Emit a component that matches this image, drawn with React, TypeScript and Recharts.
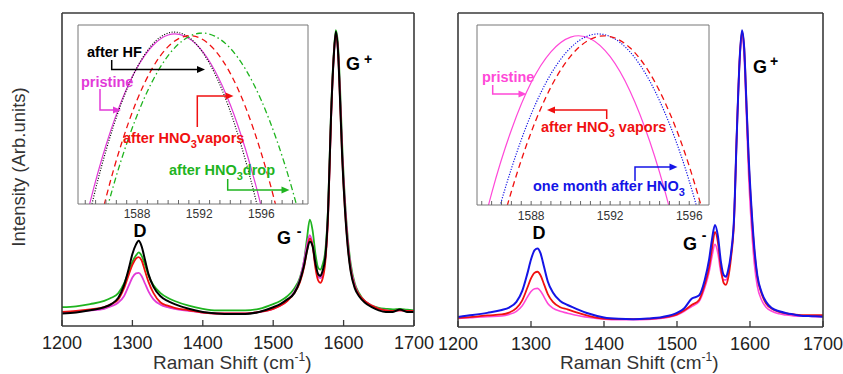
import React from 'react';
import { LineChart, Line, XAxis, YAxis } from 'recharts';

const FONT = "'Liberation Sans', Arial, sans-serif";

// Raman shift grid (cm-1) for the main spectra
const MAIN_X = [1200, 1220, 1240, 1260, 1270, 1280, 1288, 1295, 1300, 1305, 1309, 1313, 1318, 1323, 1330, 1340, 1350, 1360, 1380, 1400, 1420, 1440, 1460, 1480, 1500, 1510, 1520, 1530, 1538, 1544, 1548, 1552, 1556, 1560, 1564, 1567, 1570, 1574, 1578, 1582, 1586, 1589, 1592, 1595, 1598, 1602, 1606, 1610, 1616, 1622, 1630, 1640, 1650, 1660, 1670, 1680, 1690, 1700];
const MAIN_TICKS = [1200, 1300, 1400, 1500, 1600, 1700];

// Left panel spectra
const LEFT_HF = [4.0, 4.3, 5.0, 6.0, 7.0, 9.0, 13.0, 18.5, 23.0, 26.0, 27.2, 25.5, 21.0, 16.5, 12.5, 9.5, 8.0, 7.0, 5.5, 4.5, 4.0, 3.8, 3.8, 4.5, 6.0, 7.0, 8.5, 10.5, 14.5, 19.5, 24.0, 27.0, 25.5, 20.0, 16.5, 16.0, 17.5, 22.0, 37.0, 66.0, 86.0, 94.0, 88.0, 72.0, 54.0, 37.0, 25.0, 17.5, 12.0, 9.5, 7.5, 6.0, 5.0, 4.5, 4.5, 5.3, 4.5, 4.5];
const LEFT_DROP = [6.0, 6.3, 7.0, 8.0, 9.0, 10.5, 13.5, 17.5, 20.5, 22.5, 23.5, 22.5, 19.5, 16.0, 13.0, 10.5, 9.0, 8.0, 6.5, 5.5, 5.0, 5.0, 5.0, 5.5, 7.0, 8.0, 9.5, 12.0, 15.5, 21.0, 28.0, 34.0, 30.5, 23.0, 18.5, 18.0, 19.5, 24.0, 38.0, 67.0, 87.0, 94.5, 90.0, 76.0, 58.0, 40.0, 28.0, 20.0, 13.5, 10.5, 8.0, 6.5, 5.8, 5.5, 5.3, 5.5, 5.2, 5.0];
const LEFT_VAPORS = [4.5, 4.8, 5.3, 6.0, 7.0, 8.5, 12.0, 16.5, 19.5, 21.5, 22.0, 21.0, 17.5, 14.0, 10.5, 7.5, 6.5, 5.8, 5.0, 4.3, 4.0, 4.0, 4.0, 4.5, 5.5, 6.5, 8.0, 10.5, 14.0, 19.0, 24.0, 28.0, 25.5, 18.5, 14.5, 13.8, 15.0, 20.5, 35.0, 65.0, 86.0, 93.5, 88.0, 72.0, 54.0, 37.0, 25.5, 18.0, 12.5, 10.0, 8.0, 6.5, 5.5, 5.0, 4.8, 5.0, 4.8, 4.8];
const LEFT_PRISTINE = [4.3, 4.6, 5.0, 5.5, 6.3, 7.5, 9.5, 13.0, 15.5, 16.8, 17.0, 16.0, 13.5, 11.0, 8.5, 6.8, 6.0, 5.5, 4.8, 4.3, 4.0, 4.0, 4.0, 4.5, 5.5, 6.5, 8.0, 11.0, 15.0, 21.0, 26.0, 29.0, 26.0, 19.5, 15.8, 15.3, 16.5, 21.5, 36.0, 65.0, 86.0, 93.5, 88.5, 74.0, 56.0, 39.0, 27.0, 19.0, 13.0, 10.0, 8.0, 6.5, 5.5, 5.0, 4.8, 5.0, 4.8, 4.8];

// Right panel spectra
const RIGHT_MONTH = [3.2, 3.8, 4.5, 5.4, 6.2, 8.0, 11.5, 17.0, 21.5, 24.5, 25.0, 23.5, 19.0, 14.5, 11.0, 8.3, 7.0, 6.0, 4.2, 3.0, 2.6, 2.5, 2.7, 3.2, 4.5, 6.0, 9.0, 10.0, 15.0, 21.5, 28.0, 32.5, 29.0, 21.0, 16.5, 16.0, 18.0, 23.5, 34.0, 62.0, 86.0, 94.5, 89.0, 72.0, 55.0, 38.0, 25.0, 16.5, 11.0, 8.0, 6.0, 5.0, 4.4, 4.0, 3.6, 3.5, 3.4, 3.3];
const RIGHT_VAPORS = [2.9, 3.2, 3.7, 4.0, 4.6, 6.0, 8.5, 12.5, 15.5, 17.3, 17.6, 16.5, 13.5, 10.5, 8.0, 6.3, 5.6, 4.8, 3.5, 2.7, 2.5, 2.5, 2.6, 3.0, 4.0, 5.3, 7.0, 8.5, 13.5, 19.0, 25.0, 30.3, 27.0, 19.0, 14.0, 13.4, 15.5, 22.0, 33.0, 62.0, 86.0, 94.0, 89.0, 72.0, 54.0, 37.0, 24.0, 16.0, 10.5, 7.5, 5.8, 4.8, 4.3, 4.0, 3.8, 3.8, 3.8, 3.8];
const RIGHT_PRISTINE = [2.7, 3.0, 3.3, 3.5, 4.0, 5.0, 6.8, 9.5, 11.3, 12.2, 12.3, 11.5, 9.5, 7.5, 6.0, 5.0, 4.4, 3.8, 3.0, 2.5, 2.3, 2.3, 2.4, 2.8, 3.8, 5.0, 6.5, 8.0, 12.5, 17.5, 22.5, 26.3, 23.5, 17.5, 15.0, 15.0, 17.0, 23.0, 34.0, 63.0, 86.0, 93.0, 86.0, 68.0, 49.0, 32.0, 20.0, 13.0, 8.5, 6.3, 5.0, 4.2, 3.8, 3.5, 3.4, 3.4, 3.3, 3.3];

// Inset (zoom on G+ peak)
const INSET_MAJOR = [1588, 1592, 1596];
const LEFT_INSET_TICKS = [1584.667, 1585.333, 1586, 1586.667, 1587.333, 1588, 1588.667, 1589.333, 1590, 1590.667, 1591.333, 1592, 1592.667, 1593.333, 1594, 1594.667, 1595.333, 1596, 1596.667, 1597.333, 1598, 1598.667];
const RIGHT_INSET_TICKS = [1585.5, 1586, 1586.5, 1587, 1587.5, 1588, 1588.5, 1589, 1589.5, 1590, 1590.5, 1591, 1591.5, 1592, 1592.5, 1593, 1593.5, 1594, 1594.5, 1595, 1595.5, 1596, 1596.5];

const LI_X_A = [1584, 1585, 1586, 1587, 1588, 1589, 1590, 1591, 1592, 1593, 1594, 1595, 1596, 1597];
const LI_PRISTINE = [-0.356, 0.017, 0.328, 0.576, 0.761, 0.884, 0.944, 0.940, 0.875, 0.746, 0.554, 0.300, -0.017, -0.397];
const LI_HF = [-0.44, -0.036, 0.298, 0.565, 0.763, 0.893, 0.955, 0.948, 0.873, 0.729, 0.517, 0.237, -0.112, -0.55];
const LI_X_B = [1585, 1586, 1587, 1588, 1589, 1590, 1591, 1592, 1593, 1594, 1595, 1596, 1597, 1598];
const LI_VAPORS = [-0.333, 0.034, 0.338, 0.581, 0.761, 0.879, 0.935, 0.929, 0.860, 0.730, 0.537, 0.282, -0.034, -0.414];
const LI_X_C = [1585, 1586, 1587, 1588, 1589, 1590, 1591, 1592, 1593, 1594, 1595, 1596, 1597, 1598, 1599];
const LI_DROP = [-0.397, -0.048, 0.250, 0.495, 0.688, 0.829, 0.917, 0.954, 0.938, 0.870, 0.750, 0.578, 0.354, 0.077, -0.251];

const RI_X_A = [1585, 1586, 1587, 1588, 1589, 1590, 1591, 1592, 1593, 1594, 1595, 1596];
const RI_PRISTINE = [-0.378, 0.065, 0.417, 0.680, 0.851, 0.933, 0.924, 0.824, 0.634, 0.354, -0.017, -0.478];
const RI_X_B = [1585, 1586, 1587, 1588, 1589, 1590, 1591, 1592, 1593, 1594, 1595, 1596, 1597];
const RI_MONTH = [-0.632, -0.176, 0.202, 0.504, 0.728, 0.874, 0.944, 0.936, 0.851, 0.689, 0.450, 0.133, -0.261];
const RI_VAPORS = [-0.817, -0.332, 0.075, 0.404, 0.655, 0.827, 0.921, 0.936, 0.874, 0.733, 0.514, 0.216, -0.160];

const C_BLACK = '#000000';
const C_GREEN = '#1fb41f';
const C_RED = '#f01010';
const C_MAG = '#e23ad8';
const C_PINK = '#ff48d8';
const C_BLUE = '#1414e6';
const FRAME = '#3a3a3a';

const leftData = MAIN_X.map((x, i) => ({ x, hf: LEFT_HF[i], drop: LEFT_DROP[i], vap: LEFT_VAPORS[i], pri: LEFT_PRISTINE[i] }));
const rightData = MAIN_X.map((x, i) => ({ x, month: RIGHT_MONTH[i], vap: RIGHT_VAPORS[i], pri: RIGHT_PRISTINE[i] }));
const pts = (xs: number[], ys: number[]) => xs.map((x, i) => ({ x, y: ys[i] }));

const InsetTick = (props: any) => {
  const { x, y, payload } = props;
  if (!INSET_MAJOR.includes(payload.value)) return <g />;
  return (
    <text x={x} y={y} dy="0.71em" textAnchor="middle" fontSize={12} fill="#333" fontFamily={FONT}>
      {payload.value}
    </text>
  );
};

const mainAxes = (tickMargin: number) => [
  <XAxis key="xb" dataKey="x" type="number" domain={[1200, 1700]} ticks={MAIN_TICKS} allowDataOverflow
    height={30} tickSize={-6} tickMargin={tickMargin} axisLine={{ stroke: FRAME, strokeWidth: 1.6 }}
    tickLine={{ stroke: FRAME, strokeWidth: 1.3 }} tick={{ fontSize: 18, fill: '#222', fontFamily: FONT }} />,
  <XAxis key="xt" xAxisId="t" orientation="top" type="number" domain={[1200, 1700]} ticks={MAIN_TICKS}
    height={1} tickSize={-6} tick={false} axisLine={{ stroke: FRAME, strokeWidth: 1.6 }}
    tickLine={{ stroke: FRAME, strokeWidth: 1.3 }} />,
  <YAxis key="yl" type="number" domain={[0, 100]} allowDataOverflow width={1} tick={false} tickLine={false}
    axisLine={{ stroke: FRAME, strokeWidth: 1.6 }} />,
  <YAxis key="yr" yAxisId="r" orientation="right" type="number" domain={[0, 100]} width={1} tick={false}
    tickLine={false} axisLine={{ stroke: FRAME, strokeWidth: 1.6 }} />,
];

const insetAxes = (ticks: number[], domain: [number, number], tickMargin: number) => [
  <XAxis key="xb" dataKey="x" type="number" domain={domain} ticks={ticks} allowDataOverflow
    height={20} tickSize={-4} tickMargin={tickMargin} axisLine={{ stroke: '#777', strokeWidth: 1 }}
    tickLine={{ stroke: '#666', strokeWidth: 1 }} tick={<InsetTick />} interval={0} />,
  <XAxis key="xt" xAxisId="t" orientation="top" type="number" domain={domain} ticks={ticks}
    height={1} tickSize={-4} tick={false} axisLine={{ stroke: '#777', strokeWidth: 1 }}
    tickLine={{ stroke: '#666', strokeWidth: 1 }} interval={0} />,
  <YAxis key="yl" type="number" domain={[0, 1]} allowDataOverflow width={1} tick={false} tickLine={false}
    axisLine={{ stroke: '#777', strokeWidth: 1 }} />,
  <YAxis key="yr" yAxisId="r" orientation="right" type="number" domain={[0, 1]} width={1} tick={false}
    tickLine={false} axisLine={{ stroke: '#777', strokeWidth: 1 }} />,
];

const Arrow = ({ d, tip, dir, color }: { d: string; tip: [number, number]; dir: 'r' | 'l'; color: string }) => {
  const [tx, ty] = tip;
  const head = dir === 'r'
    ? `M${tx},${ty} L${tx - 8},${ty - 3.5} L${tx - 8},${ty + 3.5} Z`
    : `M${tx},${ty} L${tx + 8},${ty - 3.5} L${tx + 8},${ty + 3.5} Z`;
  return (
    <g>
      <path d={d} fill="none" stroke={color} strokeWidth={1.5} />
      <path d={head} fill={color} stroke="none" />
    </g>
  );
};

const Sub3 = ({ after }: { after: string }) => (
  <>
    <tspan dy={5} fontSize={11}>3</tspan>
    <tspan dy={-5}>{after}</tspan>
  </>
);

export default function App() {
  const ann = { fontFamily: FONT, fontWeight: 700 as const };
  return (
    <div style={{ position: 'absolute', left: 0, top: 0, width: 843, height: 374, background: '#fff', overflow: 'hidden' }}>
      {/* Left main panel */}
      <div style={{ position: 'absolute', left: 0, top: 0 }}>
        <LineChart width={440} height={374} data={leftData} margin={{ top: 12, right: 25, bottom: 18, left: 61 }}>
          {mainAxes(16)}
          <Line dataKey="drop" stroke={C_GREEN} strokeWidth={1.8} dot={false} type="monotone" isAnimationActive={false} />
          <Line dataKey="pri" stroke={C_MAG} strokeWidth={1.8} dot={false} type="monotone" isAnimationActive={false} />
          <Line dataKey="vap" stroke={C_RED} strokeWidth={1.8} dot={false} type="monotone" isAnimationActive={false} />
          <Line dataKey="hf" stroke={C_BLACK} strokeWidth={2} dot={false} type="monotone" isAnimationActive={false} />
        </LineChart>
      </div>
      {/* Right main panel */}
      <div style={{ position: 'absolute', left: 420, top: 0 }}>
        <LineChart width={423} height={374} data={rightData} margin={{ top: 12, right: 19, bottom: 17, left: 37 }}>
          {mainAxes(16)}
          <Line dataKey="pri" stroke={C_PINK} strokeWidth={1.6} dot={false} type="monotone" isAnimationActive={false} />
          <Line dataKey="vap" stroke={C_RED} strokeWidth={1.8} dot={false} type="monotone" isAnimationActive={false} />
          <Line dataKey="month" stroke={C_BLUE} strokeWidth={2} dot={false} type="monotone" isAnimationActive={false} />
        </LineChart>
      </div>
      {/* Left inset */}
      <div style={{ position: 'absolute', left: 60, top: 15 }}>
        <LineChart width={260} height={230} margin={{ top: 9, right: 11, bottom: 21, left: 17 }}>
          {insetAxes(LEFT_INSET_TICKS, [1584.2, 1599], 9)}
          <Line data={pts(LI_X_A, LI_PRISTINE)} dataKey="y" stroke={C_MAG} strokeWidth={1.2} dot={false} type="natural" isAnimationActive={false} />
          <Line data={pts(LI_X_A, LI_HF)} dataKey="y" stroke={C_BLACK} strokeWidth={1.2} strokeDasharray="1 1.6" dot={false} type="natural" isAnimationActive={false} />
          <Line data={pts(LI_X_B, LI_VAPORS)} dataKey="y" stroke={C_RED} strokeWidth={1.3} strokeDasharray="6 4" dot={false} type="natural" isAnimationActive={false} />
          <Line data={pts(LI_X_C, LI_DROP)} dataKey="y" stroke={C_GREEN} strokeWidth={1.3} strokeDasharray="6 3 1.5 3" dot={false} type="natural" isAnimationActive={false} />
        </LineChart>
      </div>
      {/* Right inset */}
      <div style={{ position: 'absolute', left: 470, top: 15 }}>
        <LineChart width={250} height={230} margin={{ top: 9, right: 10, bottom: 20, left: 6 }}>
          {insetAxes(RIGHT_INSET_TICKS, [1585.26, 1597], 10)}
          <Line data={pts(RI_X_A, RI_PRISTINE)} dataKey="y" stroke={C_PINK} strokeWidth={1.2} dot={false} type="natural" isAnimationActive={false} />
          <Line data={pts(RI_X_B, RI_MONTH)} dataKey="y" stroke={C_BLUE} strokeWidth={1.2} strokeDasharray="1.2 1.5" dot={false} type="natural" isAnimationActive={false} />
          <Line data={pts(RI_X_B, RI_VAPORS)} dataKey="y" stroke={C_RED} strokeWidth={1.3} strokeDasharray="6 4" dot={false} type="natural" isAnimationActive={false} />
        </LineChart>
      </div>
      {/* Annotations */}
      <svg width={843} height={374} style={{ position: 'absolute', left: 0, top: 0, pointerEvents: 'none' }}>
        <text transform="translate(25,167) rotate(-90)" textAnchor="middle" fontSize={18.5} fill="#333" fontFamily={FONT}>
          Intensity (Arb.units)
        </text>
        <text x={153} y={369} fontSize={19} fill="#333" fontFamily={FONT}>
          Raman Shift (cm<tspan dy={-8} fontSize={12}>-1</tspan><tspan dy={8}>)</tspan>
        </text>
        <text x={560} y={369} fontSize={19} fill="#333" fontFamily={FONT}>
          Raman Shift (cm<tspan dy={-8} fontSize={12}>-1</tspan><tspan dy={8}>)</tspan>
        </text>

        <text x={140} y={237} textAnchor="middle" fontSize={18} fill="#000" {...ann}>D</text>
        <text x={284} y={244} textAnchor="middle" fontSize={18} fill="#000" {...ann}>G</text>
        <text x={299} y={236} textAnchor="middle" fontSize={14} fill="#000" {...ann}>-</text>
        <text x={353} y={70} textAnchor="middle" fontSize={18} fill="#000" {...ann}>G</text>
        <text x={368} y={64} textAnchor="middle" fontSize={14} fill="#000" {...ann}>+</text>

        <text x={539} y={239} textAnchor="middle" fontSize={18} fill="#000" {...ann}>D</text>
        <text x={690} y={250} textAnchor="middle" fontSize={18} fill="#000" {...ann}>G</text>
        <text x={704} y={240} textAnchor="middle" fontSize={14} fill="#000" {...ann}>-</text>
        <text x={760} y={73} textAnchor="middle" fontSize={18} fill="#000" {...ann}>G</text>
        <text x={774} y={66} textAnchor="middle" fontSize={14} fill="#000" {...ann}>+</text>

        <text x={87} y={57} fontSize={14.5} fill={C_BLACK} {...ann}>after HF</text>
        <Arrow d="M111.7,60 V69.5 H198" tip={[205, 69.5]} dir="r" color={C_BLACK} />
        <text x={81} y={87} fontSize={14.5} fill={C_MAG} {...ann}>pristine</text>
        <Arrow d="M100,89 V110 H114" tip={[121, 110]} dir="r" color={C_MAG} />
        <text x={123} y={143} fontSize={14.5} fill={C_RED} {...ann}>after HNO<Sub3 after="vapors" /></text>
        <Arrow d="M197.3,127 V96 H226" tip={[233.5, 96]} dir="r" color={C_RED} />
        <text x={169} y={175} fontSize={14.5} fill={C_GREEN} {...ann}>after HNO<Sub3 after="drop" /></text>
        <Arrow d="M227.7,179 V190 H282" tip={[289.5, 190]} dir="r" color={C_GREEN} />

        <text x={482} y={82} fontSize={14.5} fill={C_PINK} {...ann}>pristine</text>
        <Arrow d="M492.7,85 V94 H519" tip={[526.5, 94]} dir="r" color={C_PINK} />
        <text x={541} y={132} fontSize={14.5} fill={C_RED} {...ann}>after HNO<Sub3 after=" vapors" /></text>
        <Arrow d="M606.7,119 V110 H555" tip={[547, 110]} dir="l" color={C_RED} />
        <text x={533} y={191} fontSize={14.5} fill={C_BLUE} {...ann}>one month after HNO<tspan dy={5} fontSize={11}>3</tspan></text>
        <Arrow d="M635,181 V167 H670" tip={[677.5, 167]} dir="r" color={C_BLUE} />
      </svg>
    </div>
  );
}
